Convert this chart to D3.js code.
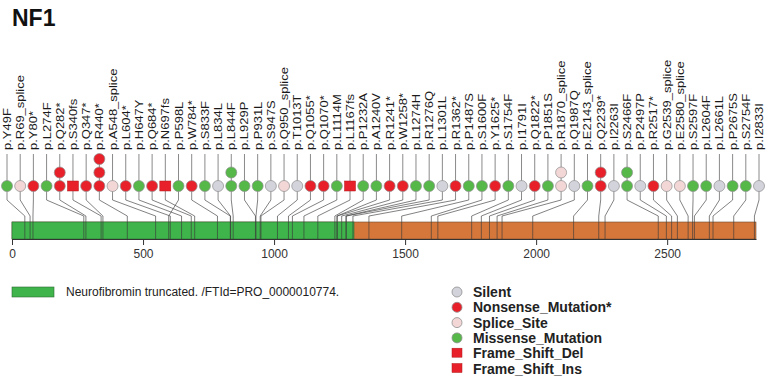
<!DOCTYPE html>
<html>
<head>
<meta charset="utf-8">
<script src="https://cdn.jsdelivr.net/npm/d3@7"></script>
<style>
  body { margin: 0; background: #fff; }
  svg { display: block; font-family: "Liberation Sans", Arial, sans-serif; }
</style>
</head>
<body>
<svg id="chart" width="768" height="383"></svg>
<script>
// mutation labels, left to right
const labels = ['p.Y49F', 'p.R69_splice', 'p.Y80*', 'p.L274F', 'p.Q282*', 'p.S340fs', 'p.Q347*', 'p.R440*',
  'p.A548_splice', 'p.L604*', 'p.H647Y', 'p.Q684*', 'p.N697fs', 'p.P598L', 'p.W784*', 'p.S833F', 'p.L834L',
  'p.L844F', 'p.L929P', 'p.P931L', 'p.S947S', 'p.Q950_splice', 'p.T1013T', 'p.Q1055*', 'p.Q1070*', 'p.L1114M',
  'p.L1167fs', 'p.P1232A', 'p.A1240V', 'p.R1241*', 'p.W1258*', 'p.L1274H', 'p.R1276Q', 'p.L1301L', 'p.R1362*',
  'p.P1487S', 'p.S1600F', 'p.Y1625*', 'p.S1754F', 'p.I1791I', 'p.Q1822*', 'p.P1851S', 'p.R1870_splice',
  'p.Q1987Q', 'p.E2143_splice', 'p.Q2239*', 'p.I2263I', 'p.S2466F', 'p.P2497P', 'p.R2517*', 'p.G2539_splice',
  'p.E2580_splice', 'p.S2597F', 'p.L2604F', 'p.L2661L', 'p.P2675S', 'p.S2754F', 'p.I2833I'];
// protein position of each mutation
const positions = [49, 69, 80, 274, 282, 340, 347, 440, 548, 604, 647, 684, 697, 598, 784, 833, 834, 844, 929,
  931, 947, 950, 1013, 1055, 1070, 1114, 1167, 1232, 1240, 1241, 1258, 1274, 1276, 1301, 1362, 1487, 1600, 1625,
  1754, 1791, 1822, 1851, 1870, 1987, 2143, 2239, 2263, 2466, 2497, 2517, 2539, 2580, 2597, 2604, 2661, 2675,
  2754, 2833];
// S silent, N nonsense, P splice, M missense, D frame shift del
const types = ['M', 'P', 'N', 'M', 'N', 'D', 'N', 'N', 'P', 'N', 'M', 'N', 'D', 'M', 'N', 'M', 'S', 'M', 'M', 'M',
  'S', 'P', 'S', 'N', 'N', 'M', 'D', 'M', 'M', 'N', 'N', 'M', 'M', 'S', 'N', 'M', 'M', 'N', 'M', 'S', 'N', 'M',
  'P', 'S', 'M', 'N', 'S', 'M', 'S', 'N', 'P', 'P', 'M', 'M', 'S', 'M', 'M', 'S'];
// number of samples (stacked markers)
const counts = [1, 1, 1, 1, 2, 1, 1, 3, 1, 1, 1, 1, 1, 1, 1, 1, 1, 2, 1, 1, 1, 1, 1, 1, 1, 1, 1, 1, 1, 1, 1, 1, 1,
  1, 1, 1, 1, 1, 1, 1, 1, 1, 2, 1, 1, 2, 1, 2, 1, 1, 1, 1, 1, 1, 1, 1, 1, 1];

const proteinLength = 2839;
const domains = [{ name: 'Neurofibromin truncated. /FTId=PRO_0000010774.', start: 0, end: 1305 }];
const axisTicks = [0, 500, 1000, 1500, 2000, 2500];

const legendItems = [
  { name: 'Silent', key: 'S' },
  { name: 'Nonsense_Mutation*', key: 'N' },
  { name: 'Splice_Site', key: 'P' },
  { name: 'Missense_Mutation', key: 'M' },
  { name: 'Frame_Shift_Del', key: 'D' },
  { name: 'Frame_Shift_Ins', key: 'I' }
];

const fills = { S: '#d3d3dc', N: '#e8202a', P: '#f3d6d6', M: '#55b848', D: '#e8202a', I: '#e8202a' };
const square = { D: true, I: true };

const svg = d3.select('#chart');

const x = d3.scaleLinear().domain([0, proteinLength]).range([12, 756]);
const col = d3.scalePoint().domain(d3.range(labels.length)).range([7, 759]);

const barTop = 222, barBottom = 239;
const labelBottom = 150, stemEnd = 200, bend = 216;
const baseY = 186, step = 13.5;

// title
svg.append('text')
  .attr('x', 12).attr('y', 26)
  .attr('font-size', 23).attr('font-weight', 'bold')
  .attr('fill', '#111')
  .text('NF1');

// protein bar
svg.append('rect')
  .attr('x', x(0)).attr('y', barTop)
  .attr('width', x(proteinLength) - x(0)).attr('height', barBottom - barTop)
  .attr('fill', '#d5773b').attr('stroke', '#6b4a30').attr('stroke-width', 0.6);
domains.forEach(d => {
  svg.append('rect')
    .attr('x', x(d.start)).attr('y', barTop)
    .attr('width', x(d.end) - x(d.start)).attr('height', barBottom - barTop)
    .attr('fill', '#3eb44a').attr('stroke', '#2f6b33').attr('stroke-width', 0.6);
});

// connectors
const links = svg.append('g').attr('fill', 'none');
labels.forEach((l, i) => {
  const cx = col(i), px = x(positions[i]);
  links.append('line')
    .attr('x1', cx).attr('x2', cx).attr('y1', labelBottom + 4).attr('y2', stemEnd)
    .attr('stroke', '#8a8a8a').attr('stroke-width', 1);
  links.append('path')
    .attr('d', `M${cx},${stemEnd}L${px},${bend}L${px},${barBottom}`)
    .attr('stroke', '#3a3a3a').attr('stroke-width', 0.8).attr('stroke-opacity', 0.8);
});

// labels
labels.forEach((l, i) => {
  svg.append('text')
    .attr('transform', `translate(${col(i) + 4},${labelBottom}) rotate(-90) scale(1.18,1)`)
    .attr('font-size', 11)
    .attr('fill', '#1a1a1a')
    .text(l);
});

// markers
const marks = svg.append('g');
labels.forEach((l, i) => {
  for (let k = 0; k < counts[i]; k++) {
    const cy = baseY - k * step;
    const t = types[i];
    if (square[t]) {
      marks.append('rect')
        .attr('x', col(i) - 5.5).attr('y', cy - 5)
        .attr('width', 11).attr('height', 10)
        .attr('fill', fills[t]).attr('stroke', '#b01a1a').attr('stroke-width', 0.5);
    } else {
      marks.append('circle')
        .attr('cx', col(i)).attr('cy', cy).attr('r', 5.5)
        .attr('fill', fills[t]).attr('stroke', '#8f8f8f').attr('stroke-width', 0.7);
    }
  }
});

// axis
const axis = svg.append('g')
  .attr('transform', `translate(0,${barBottom})`)
  .call(d3.axisBottom(x).tickValues(axisTicks).tickSize(6).tickSizeOuter(0).tickFormat(d3.format('d')));
axis.select('.domain').attr('stroke', '#333');
axis.selectAll('.tick line').attr('stroke', '#333');
axis.selectAll('.tick text')
  .attr('font-size', 12).attr('fill', '#333').attr('dy', '0.8em')
  .attr('font-family', '"Liberation Sans", Arial, sans-serif');

// domain legend
svg.append('rect')
  .attr('x', 12).attr('y', 287).attr('width', 42).attr('height', 10)
  .attr('fill', '#3eb44a').attr('stroke', '#2f6b33').attr('stroke-width', 0.6);
svg.append('text')
  .attr('x', 66).attr('y', 296)
  .attr('font-size', 12).attr('fill', '#222')
  .text(domains[0].name);

// mutation legend
const lg = svg.append('g').attr('transform', 'translate(457,292)');
legendItems.forEach((d, i) => {
  const g = lg.append('g').attr('transform', `translate(0,${i * 15.3})`);
  if (square[d.key]) {
    g.append('rect').attr('x', -5).attr('y', -5).attr('width', 10).attr('height', 9)
      .attr('fill', fills[d.key]).attr('stroke', '#b01a1a').attr('stroke-width', 0.5);
  } else {
    g.append('circle').attr('r', 5)
      .attr('fill', fills[d.key]).attr('stroke', '#8f8f8f').attr('stroke-width', 0.8);
  }
  g.append('text')
    .attr('x', 16).attr('y', 5)
    .attr('font-size', 14).attr('font-weight', 'bold').attr('fill', '#222')
    .text(d.name);
});
</script>
</body>
</html>
